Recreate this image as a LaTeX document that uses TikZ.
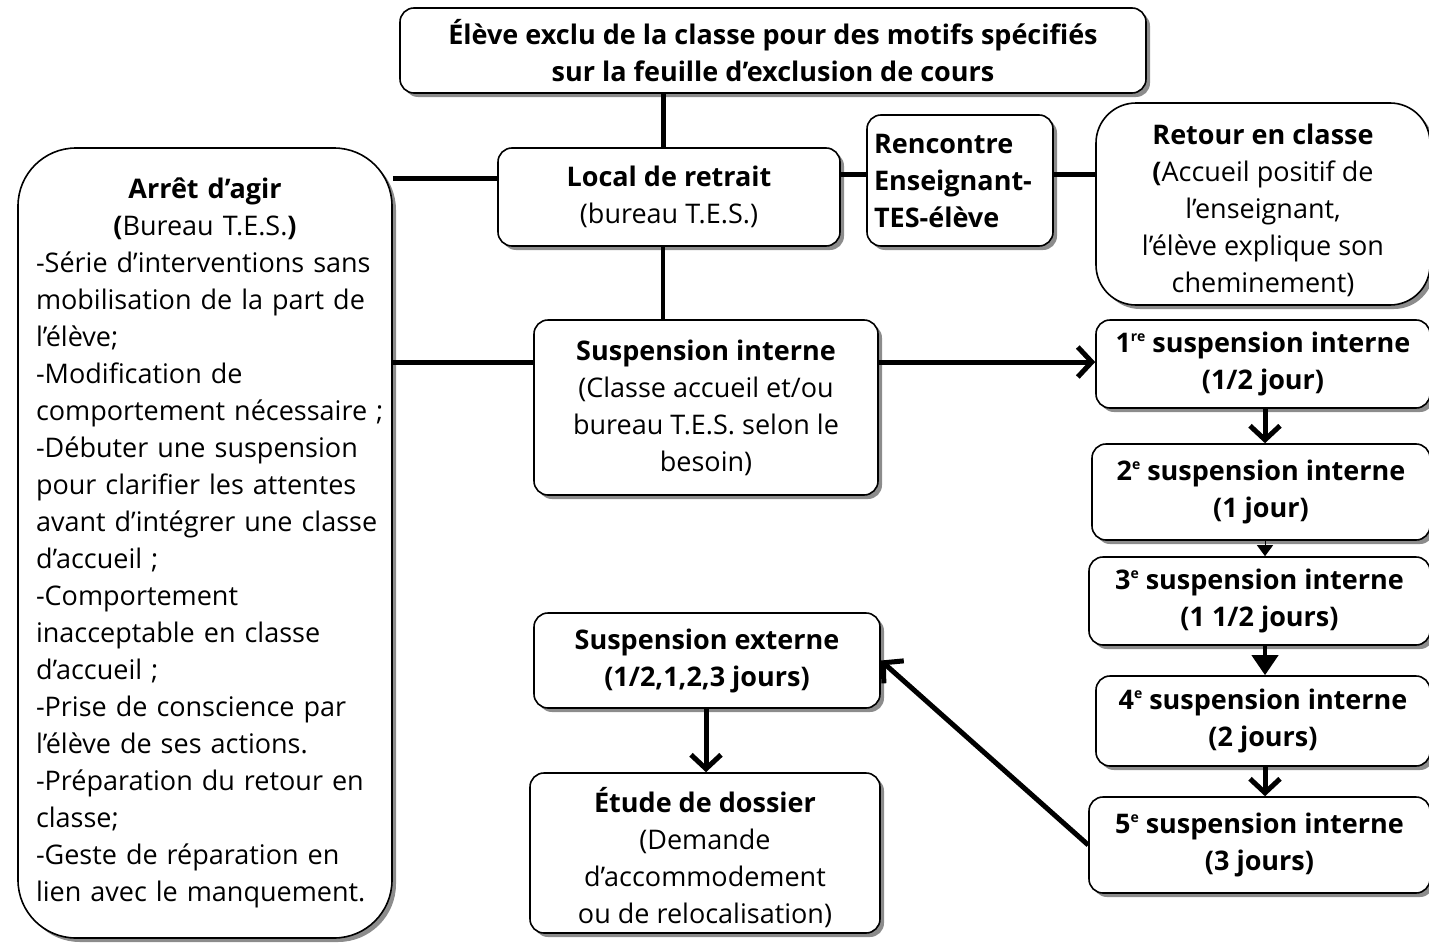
\documentclass[tikz,border=0pt]{standalone}
\usepackage{fontspec}
\setmainfont{Open Sans}
\usetikzlibrary{shadows,arrows.meta}
\newcommand{\sups}[1]{\raisebox{0.75ex}{\fontsize{14}{14}\selectfont #1}}
\begin{document}
\begin{tikzpicture}[x=1pt,y=-1pt,
  font=\fontsize{27}{37}\selectfont,
  box/.style={draw, line width=1.6pt, rounded corners=14pt, fill=white, inner sep=0pt, align=center,
    drop shadow={shadow xshift=4pt, shadow yshift=-4pt, fill=black!45, opacity=1}},
  txt/.style={inner sep=0pt, align=center},
  conn/.style={line width=5pt},
  barb/.style={line width=5pt, -{Straight Barb[length=14pt,width=30pt,line width=5pt]}},
  tri/.style={line width=4pt, -{Triangle[length=20pt,width=26pt]}}
]
\useasboundingbox (0,0) rectangle (1429,942);
% boxes
\node[box, minimum width=746pt, minimum height=85pt] (top) at (773,50.5)
  {\textbf{Élève exclu de la classe pour des motifs spécifiés}\\\textbf{sur la feuille d’exclusion de cours}};
\node[box, rounded corners=58pt, minimum width=374pt, minimum height=790pt] (arret) at (205,543) {};
\node[txt, text width=370pt, align=left] (arrettxt) at (221,543)
  {{\centering\hspace*{-32pt}\textbf{Arrêt d’agir}\\\hspace*{-32pt}\textbf{(}Bureau T.E.S.\textbf{)}\par}%
   -Série d’interventions sans\\mobilisation de la part de\\l’élève;\\-Modification de\\comportement nécessaire ;\\%
   -Débuter une suspension\\pour clarifier les attentes\\avant d’intégrer une classe\\d’accueil ;\\-Comportement\\%
   inacceptable en classe\\d’accueil ;\\-Prise de conscience par\\l’élève de ses actions.\\-Préparation du retour en\\%
   classe;\\-Geste de réparation en\\lien avec le manquement.};
\node[box, minimum width=342pt, minimum height=98pt] (local) at (669,197)
  {\textbf{Local de retrait}\\(bureau T.E.S.)};
\node[box, minimum width=186pt, minimum height=131pt, text width=172pt, align=left] (renc) at (960,180.5)
  {\textbf{Rencontre}\\\textbf{Enseignant-}\\\textbf{TES-élève}};
\node[box, rounded corners=40pt, minimum width=334pt, minimum height=202pt] (retour) at (1263,204) {};
\node[txt] (retourtxt) at (1263,210)
  {\textbf{Retour en classe}\\\textbf{(}Accueil positif de\\l’enseignant,\\l’élève explique son\\cheminement)};
\node[box, minimum width=344pt, minimum height=175pt] (si) at (706,407.5)
  {\textbf{Suspension interne}\\(Classe accueil et/ou\\bureau T.E.S. selon le\\besoin)};
\node[box, minimum width=334pt, minimum height=88pt] (s1) at (1263,364)
  {\textbf{1\sups{re} suspension interne}\\\textbf{(1/2 jour)}};
\node[box, minimum width=338pt, minimum height=96pt] (s2) at (1261,492)
  {\textbf{2\sups{e} suspension interne}\\\textbf{(1 jour)}};
\node[box, minimum width=341pt, minimum height=88pt] (s3) at (1259.5,601)
  {\textbf{3\sups{e} suspension interne}\\\textbf{(1 1/2 jours)}};
\node[box, minimum width=334pt, minimum height=90pt] (s4) at (1263,721)
  {\textbf{4\sups{e} suspension interne}\\\textbf{(2 jours)}};
\node[box, minimum width=341pt, minimum height=96pt] (s5) at (1259.5,845)
  {\textbf{5\sups{e} suspension interne}\\\textbf{(3 jours)}};
\node[box, minimum width=346pt, minimum height=95pt] (se) at (707,660.5)
  {\textbf{Suspension externe}\\\textbf{(1/2,1,2,3 jours)}};
\node[box, minimum width=350pt, minimum height=160pt] (etude) at (705,853) {};
\node[txt] (etudetxt) at (705,858)
  {\textbf{Étude de dossier}\\(Demande\\d’accommodement\\ou de relocalisation)};
% connectors
\draw[conn] (663,0 |- top.south) -- (663,0 |- local.north);
\draw[line width=4pt] (663,0 |- local.south) -- (663,0 |- si.north);
\draw[conn] (arret.east |- 0,178) -- (local.west |- 0,178);
\draw[conn] (arret.east |- 0,362) -- (si.west |- 0,362);
\draw[conn] (local.east |- 0,174) -- (renc.west |- 0,174);
\draw[conn] (renc.east |- 0,174) -- (retour.west |- 0,174);
\draw[barb] (si.east |- 0,362) -- (s1.west |- 0,362);
\draw[barb] (1265,0 |- s1.south) -- (1265,0 |- s2.north);
\draw[line width=1pt, -{Triangle[length=11pt,width=16pt]}] (1265,0 |- s2.south) -- (1265,0 |- s3.north);
\draw[tri] (1265,0 |- s3.south) -- (1265,0 |- s4.north);
\draw[barb] (1265,0 |- s4.south) -- (1265,0 |- s5.north);
\draw[barb] (s5.west) -- (se.east);
\draw[barb] (706,0 |- se.south) -- (706,0 |- etude.north);
\end{tikzpicture}
\end{document}
